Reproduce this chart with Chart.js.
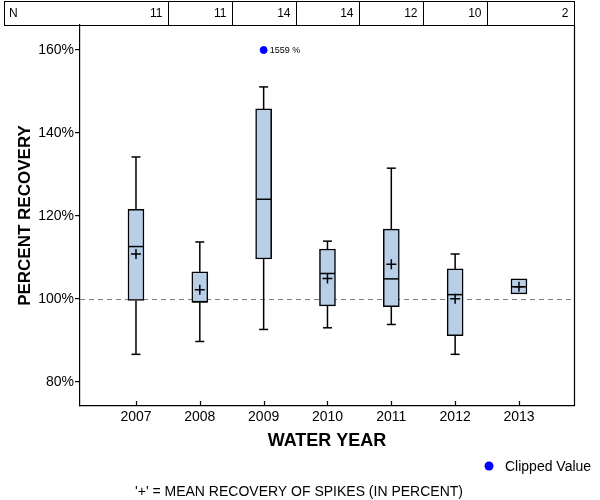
<!DOCTYPE html>
<html>
<head>
<meta charset="utf-8">
<script src="https://cdn.jsdelivr.net/npm/chart.js@4/dist/chart.umd.min.js"></script>
<style>
  body { margin: 0; background: #fff; }
  #wrap { width: 600px; height: 500px; }
</style>
</head>
<body>
<div id="wrap"><canvas id="myChart" width="600" height="500"></canvas></div>
<script>
// data
const years = [2007, 2008, 2009, 2010, 2011, 2012, 2013];
const counts = [11, 11, 14, 14, 12, 10, 2];
const whiskerLow  = [86.6, 89.7, 92.6, 93.0, 93.8, 86.6, null];
const boxLow      = [99.6, 99.1, 109.6, 98.3, 98.1, 91.1, 101.2];
const medians     = [112.6, 99.3, 124.0, 106.1, 104.8, 101.0, 102.9];
const boxHigh     = [121.6, 106.5, 145.8, 112.0, 116.8, 107.2, 104.8];
const whiskerHigh = [134.2, 113.7, 151.1, 113.9, 131.5, 110.8, null];
const means       = [110.8, 102.2, null, 104.9, 108.3, 100.0, 102.9];
const clippedYears = [2009];
const clippedAt = [160];
const clippedLabels = ['1559 %'];
const yTicks = [80, 100, 120, 140, 160];
const refLine = 100;

const boxFill = 'rgb(185, 207, 231)';
const font = 'Liberation Sans, Arial, sans-serif';
const lw = 1.5;

function pts(ys) {
  return years.map((x, i) => ({ x: x, y: ys[i] }));
}

// whisker stems: box edge -> whisker end, broken with nulls
const stems = [];
years.forEach((x, i) => {
  if (whiskerHigh[i] != null) {
    stems.push({ x: x, y: boxHigh[i] }, { x: x, y: whiskerHigh[i] }, { x: x, y: null });
  }
  if (whiskerLow[i] != null) {
    stems.push({ x: x, y: boxLow[i] }, { x: x, y: whiskerLow[i] }, { x: x, y: null });
  }
});
const caps = [];
years.forEach((x, i) => {
  if (whiskerHigh[i] != null) caps.push({ x: x, y: whiskerHigh[i] });
  if (whiskerLow[i] != null) caps.push({ x: x, y: whiskerLow[i] });
});

const extras = {
  id: 'extras',
  beforeDatasetsDraw(chart) {
    const { ctx, chartArea: a, scales: { x, y } } = chart;
    ctx.save();
    // reference line
    const yy = Math.round(y.getPixelForValue(refLine)) + 0.5;
    ctx.strokeStyle = '#808080';
    ctx.lineWidth = 1.2;
    ctx.setLineDash([5, 4]);
    ctx.beginPath();
    ctx.moveTo(a.left, yy);
    ctx.lineTo(a.right, yy);
    ctx.stroke();
    ctx.restore();
  },
  afterDraw(chart) {
    const { ctx, chartArea: a, scales: { x, y } } = chart;
    ctx.save();
    ctx.strokeStyle = '#000';
    ctx.lineWidth = 1.2;
    // right border
    ctx.beginPath();
    ctx.moveTo(a.right + 0.5, a.top);
    ctx.lineTo(a.right + 0.5, a.bottom);
    ctx.stroke();
    // inward x ticks
    years.forEach(v => {
      const px = Math.round(x.getPixelForValue(v)) + 0.5;
      ctx.beginPath();
      ctx.moveTo(px, a.bottom);
      ctx.lineTo(px, a.bottom - 5);
      ctx.stroke();
    });
    // N table
    ctx.lineWidth = 1;
    const top = 1, bot = a.top, left = 4;
    ctx.strokeRect(left + 0.5, top + 0.5, a.right - left, bot - top);
    ctx.font = '12px ' + font;
    ctx.fillStyle = '#000';
    ctx.textBaseline = 'middle';
    ctx.textAlign = 'left';
    ctx.fillText('N', 9, (top + bot) / 2 + 1);
    ctx.textAlign = 'right';
    years.forEach((v, i) => {
      const right = i < years.length - 1
        ? Math.round(x.getPixelForValue(v + 0.5)) + 0.5
        : a.right + 0.5;
      if (i < years.length - 1) {
        ctx.beginPath();
        ctx.moveTo(right, top);
        ctx.lineTo(right, bot);
        ctx.stroke();
      }
      ctx.fillText(String(counts[i]), right - 6, (top + bot) / 2 + 1);
    });
    // clipped value labels
    ctx.font = '9px ' + font;
    ctx.textAlign = 'left';
    clippedYears.forEach((v, i) => {
      ctx.fillText(clippedLabels[i], x.getPixelForValue(v) + 6, y.getPixelForValue(clippedAt[i]) + 1);
    });
    // legend
    ctx.fillStyle = '#0000ff';
    ctx.beginPath();
    ctx.arc(489, 466, 4.5, 0, Math.PI * 2);
    ctx.fill();
    ctx.fillStyle = '#000';
    ctx.font = '14px ' + font;
    ctx.fillText('Clipped Value', 505, 467);
    // footnote
    ctx.textAlign = 'center';
    ctx.fillText("'+' = MEAN RECOVERY OF SPIKES (IN PERCENT)", 299, 492);
    ctx.restore();
  }
};

const ctx = document.getElementById('myChart').getContext('2d');
const chart = new Chart(ctx, {
  data: {
    datasets: [
      {
        type: 'bar',
        label: 'Box',
        data: years.map((x, i) => ({ x: x, y: [boxLow[i], boxHigh[i]] })),
        backgroundColor: boxFill,
        borderColor: '#000',
        borderWidth: lw,
        borderSkipped: false,
        barThickness: 16,
        order: 5
      },
      {
        type: 'line',
        label: 'Whiskers',
        data: stems,
        borderColor: '#000',
        borderWidth: lw,
        pointRadius: 0,
        spanGaps: false,
        order: 4
      },
      {
        type: 'scatter',
        label: 'Caps',
        data: caps,
        pointStyle: 'line',
        pointRadius: 4.5,
        borderColor: '#000',
        borderWidth: lw,
        order: 3
      },
      {
        type: 'scatter',
        label: 'Median',
        data: pts(medians),
        pointStyle: 'line',
        pointRadius: 7.5,
        borderColor: '#000',
        borderWidth: lw,
        order: 2
      },
      {
        type: 'scatter',
        label: 'Mean',
        data: pts(means).filter(p => p.y != null),
        pointStyle: 'cross',
        pointRadius: 5,
        borderColor: '#000',
        borderWidth: lw,
        order: 1
      },
      {
        type: 'scatter',
        label: 'Clipped Value',
        data: clippedYears.map((x, i) => ({ x: x, y: clippedAt[i] })),
        pointStyle: 'circle',
        pointRadius: 3.5,
        backgroundColor: '#0000ff',
        borderColor: '#0000ff',
        order: 0
      }
    ]
  },
  options: {
    responsive: false,
    animation: false,
    layout: { padding: { top: 25, right: 26, bottom: 48, left: 0 } },
    plugins: { legend: { display: false }, tooltip: { enabled: false } },
    scales: {
      x: {
        type: 'linear',
        offset: false,
        min: 2006.123,
        max: 2013.862,
        afterBuildTicks: s => { s.ticks = years.map(v => ({ value: v })); },
        afterFit: s => { s.height = 46; },
        ticks: {
          callback: v => String(v),
          color: '#000',
          font: { family: font, size: 14 },
          padding: 3,
          maxRotation: 0
        },
        grid: { display: false, drawTicks: false },
        border: { display: true, color: '#000', width: 1.2 },
        title: {
          display: true,
          text: 'WATER YEAR',
          color: '#000',
          font: { family: font, size: 18, weight: 'bold' },
          padding: { top: 6, bottom: 0 }
        }
      },
      y: {
        min: 74.14,
        max: 166.03,
        afterBuildTicks: s => { s.ticks = yTicks.map(v => ({ value: v })); },
        afterFit: s => { s.width = 80; },
        ticks: {
          callback: v => v + '%',
          color: '#000',
          font: { family: font, size: 14 },
          padding: 1
        },
        grid: {
          drawOnChartArea: false,
          drawTicks: true,
          tickLength: 5,
          color: '#000',
          lineWidth: 1.2
        },
        border: { display: true, color: '#000', width: 1.2 },
        title: {
          display: true,
          text: 'PERCENT RECOVERY',
          color: '#000',
          font: { family: font, size: 17, weight: 'bold' },
          padding: { top: 15, bottom: 0 }
        }
      }
    }
  },
  plugins: [extras]
});
</script>
</body>
</html>
